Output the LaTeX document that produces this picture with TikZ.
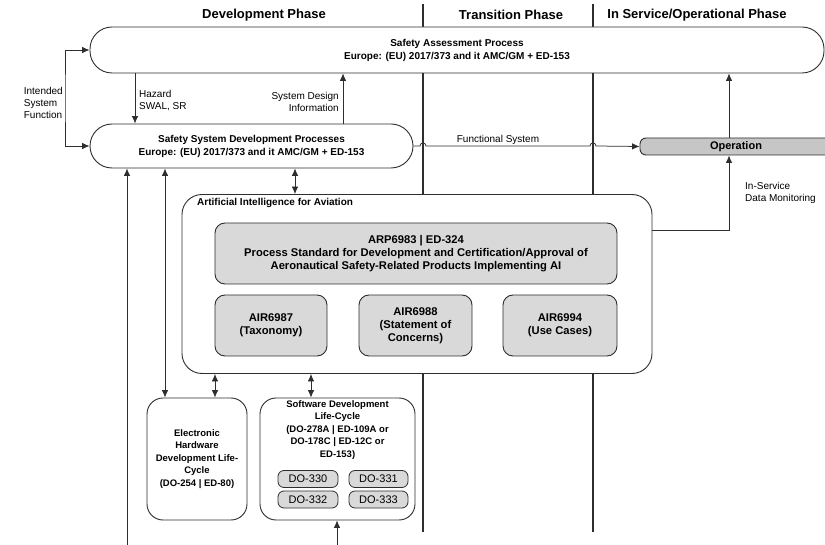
\documentclass[tikz,border=0pt]{standalone}
\usepackage{fontspec}
\setmainfont{Liberation Sans}
\usetikzlibrary{arrows.meta}
\definecolor{linec}{HTML}{2E2E2E}
\definecolor{boxgray}{HTML}{D9D9D9}
\definecolor{opgray}{HTML}{C6C6C6}

\begin{document}
\begin{tikzpicture}[x=1pt,y=-1pt,>={Latex[length=7.5pt,width=6.5pt]},
  conn/.style={draw=linec,line width=0.75pt},
  sepline/.style={draw=linec,line width=1.1pt},
  phase/.style={font=\bfseries\fontsize{13}{15}\selectfont,inner sep=0pt},
  lbl/.style={font=\fontsize{10}{12}\selectfont,inner sep=0pt},
  pill/.style={draw=linec,fill=white,line width=0.9pt,rounded corners=22pt,
    inner sep=0pt,align=center,font=\bfseries\fontsize{10}{13}\selectfont},
  gbox/.style={draw=linec,fill=boxgray,line width=0.9pt,rounded corners=10pt,
    inner sep=0pt,align=center,font=\bfseries\fontsize{11.2}{13}\selectfont},
  lcbox/.style={draw=linec,fill=white,line width=0.9pt,rounded corners=16pt,
    inner sep=0pt,align=center,font=\bfseries\fontsize{9.5}{12.5}\selectfont},
  dobox/.style={draw=linec,fill=boxgray,line width=0.8pt,rounded corners=6pt,
    inner sep=0pt,minimum height=17pt,font=\fontsize{11}{12}\selectfont}]
  \useasboundingbox (0,0) rectangle (825,545);

  % phases
  \coordinate (sepA) at (423,4);
  \coordinate (sepB) at (593,4);
  \draw[sepline] (sepA) -- (423,532);
  \draw[sepline] (sepB) -- (593,532);
  \node[phase] (devph) at (264,15) {Development Phase};
  \node[phase] (trph) at (511,15) {Transition Phase};
  \node[phase] (opph) at (697,15) {In Service/Operational Phase};

  % safety processes
  \node[pill,minimum width=734pt,minimum height=46pt] (sap) at (457,50)
    {Safety Assessment Process\\Europe: (EU) 2017/373 and it AMC/GM + ED-153};
  \node[pill,minimum width=323pt,minimum height=44pt] (ssdp) at (251.5,146)
    {Safety System Development Processes\\Europe: (EU) 2017/373 and it AMC/GM + ED-153};
  \node[draw=linec,fill=opgray,line width=0.9pt,rounded corners=6pt,
    minimum width=192pt,minimum height=17pt,inner sep=0pt,
    font=\bfseries\fontsize{11}{13}\selectfont] (op) at (736,146.5) {Operation};

  % AI for aviation
  \node[draw=linec,fill=white,line width=0.9pt,rounded corners=20pt,
    minimum width=470pt,minimum height=179pt] (ai) at (417,284) {};
  \node[font=\bfseries\fontsize{10}{12}\selectfont,inner sep=0pt,anchor=west]
    (aititle) at (197,203) {Artificial Intelligence for Aviation};
  \node[gbox,minimum width=402pt,minimum height=61pt] (arp) at (416,253.5)
    {ARP6983 | ED-324\\Process Standard for Development and Certification/Approval of\\Aeronautical Safety-Related Products Implementing AI};
  \node[gbox,minimum width=112pt,minimum height=61pt] (taxo) at (271,325.5)
    {AIR6987\\(Taxonomy)};
  \node[gbox,minimum width=113pt,minimum height=61pt] (conc) at (415.5,325.5)
    {AIR6988\\(Statement of\\Concerns)};
  \node[gbox,minimum width=114pt,minimum height=61pt] (ucase) at (560,325.5)
    {AIR6994\\(Use Cases)};

  % life-cycles
  \node[lcbox,minimum width=100pt,minimum height=122pt] (eh) at (197,459)
    {Electronic\\Hardware\\Development Life-\\Cycle\\(DO-254 | ED-80)};
  \node[lcbox,minimum width=155pt,minimum height=122pt] (sw) at (337.5,459) {};
  \node[lcbox,draw=none,fill=none,anchor=north] (swtitle) at (337.5,400)
    {Software Development\\Life-Cycle\\(DO-278A | ED-109A or\\DO-178C | ED-12C or\\ED-153)};
  \node[dobox,minimum width=60pt] (do330) at (308,479) {DO-330};
  \node[dobox,minimum width=59pt] (do331) at (378.5,479) {DO-331};
  \node[dobox,minimum width=60pt] (do332) at (308,499.5) {DO-332};
  \node[dobox,minimum width=59pt] (do333) at (378.5,499.5) {DO-333};

  % connectors
  \coordinate (isf) at (65,98);
  \draw[conn,<->] (sap.west) -| (isf) |- (ssdp.west);
  \node[lbl,anchor=east,align=left] (isflbl) at (63,103) {Intended\\System\\Function};

  \coordinate (hz) at (135,0);
  \draw[conn,->] (sap.south -| hz) -- (ssdp.north -| hz);
  \node[lbl,anchor=west,align=left] (hzlbl) at (139,101) {Hazard\\SWAL, SR};

  \coordinate (sdi) at (343,0);
  \draw[conn,->] (ssdp.north -| sdi) -- (sap.south -| sdi);
  \node[lbl,anchor=east,align=right] (sdilbl) at (339,102) {System Design\\Information};

  \draw[conn,->] (ssdp.east) -- ([xshift=-3pt]sepA |- ssdp.east)
    .. controls +(0,-4) and +(0,-4) .. ([xshift=3pt]sepA |- ssdp.east)
    -- ([xshift=-3pt]sepB |- ssdp.east)
    .. controls +(0,-4) and +(0,-4) .. ([xshift=3pt]sepB |- ssdp.east)
    -- (op.west);
  \node[lbl,anchor=base] (fslbl) at (498,143) {Functional System};

  \coordinate (mon) at (729,230);
  \draw[conn,->] (op.north -| mon) -- (sap.south -| mon);
  \draw[conn,->] (ai.east |- mon) -| (op.south -| mon);
  \node[lbl,anchor=west,align=left] (monlbl) at (745,193) {In-Service\\Data Monitoring};

  \coordinate (c1) at (295,0);
  \draw[conn,<->] (ssdp.south -| c1) -- (ai.north -| c1);
  \coordinate (b1) at (127,545);
  \draw[conn,->] (b1) -- (ssdp.south -| b1);
  \coordinate (b2) at (165,0);
  \draw[conn,<->] (ssdp.south -| b2) -- (eh.north -| b2);
  \coordinate (c2) at (215,0);
  \draw[conn,<->] (ai.south -| c2) -- (eh.north -| c2);
  \coordinate (c3) at (311,0);
  \draw[conn,<->] (ai.south -| c3) -- (sw.north -| c3);
  \coordinate (b3) at (337,545);
  \draw[conn,->] (b3) -- (sw.south -| b3);
\end{tikzpicture}
\end{document}
